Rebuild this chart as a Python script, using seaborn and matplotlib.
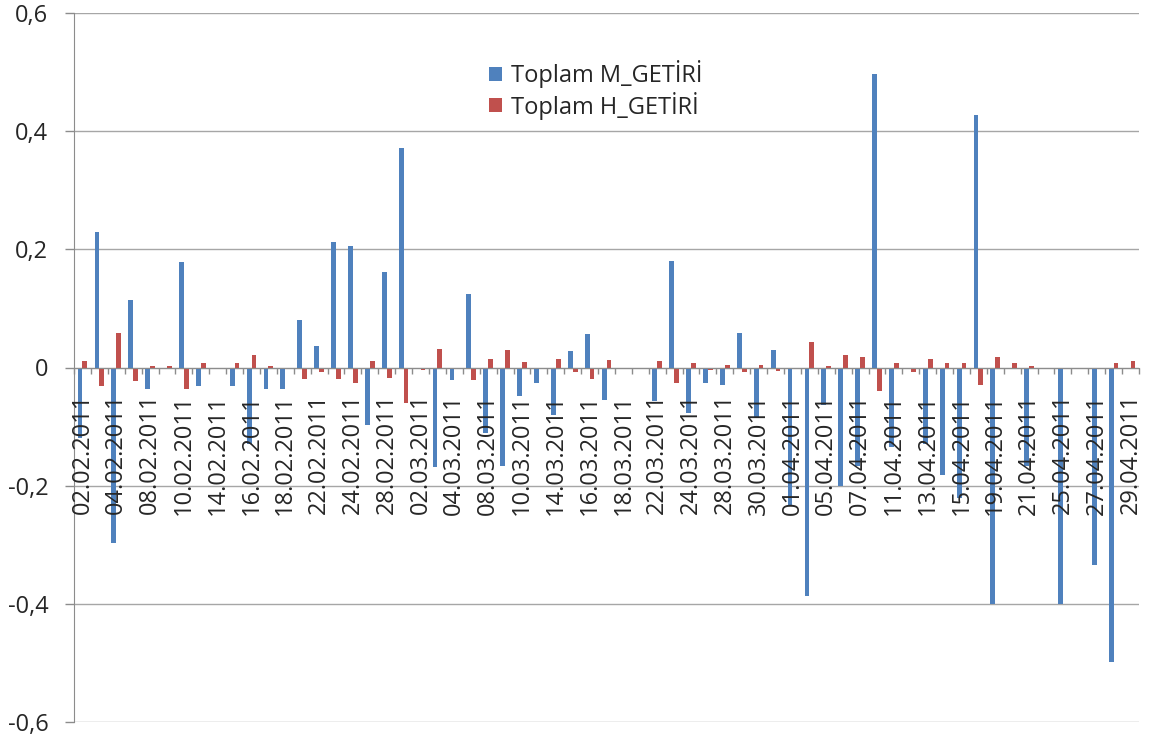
import numpy as np
import pandas as pd
import matplotlib
matplotlib.use("Agg")
import matplotlib.pyplot as plt
import seaborn as sns
from matplotlib.patches import Patch
from matplotlib.ticker import FuncFormatter, FixedLocator, FixedFormatter

# Trading days, Feb-Apr 2011
dates = [
    "02.02.2011", "03.02.2011", "04.02.2011", "07.02.2011", "08.02.2011", "09.02.2011",
    "10.02.2011", "11.02.2011", "14.02.2011", "15.02.2011", "16.02.2011", "17.02.2011",
    "18.02.2011", "21.02.2011", "22.02.2011", "23.02.2011", "24.02.2011", "25.02.2011",
    "28.02.2011",
    "01.03.2011", "02.03.2011", "03.03.2011", "04.03.2011", "07.03.2011", "08.03.2011",
    "09.03.2011", "10.03.2011", "11.03.2011", "14.03.2011", "15.03.2011", "16.03.2011",
    "17.03.2011", "18.03.2011", "21.03.2011", "22.03.2011", "23.03.2011", "24.03.2011",
    "25.03.2011", "28.03.2011", "29.03.2011", "30.03.2011", "31.03.2011",
    "01.04.2011", "04.04.2011", "05.04.2011", "06.04.2011", "07.04.2011", "08.04.2011",
    "11.04.2011", "12.04.2011", "13.04.2011", "14.04.2011", "15.04.2011", "18.04.2011",
    "19.04.2011", "20.04.2011", "21.04.2011", "22.04.2011", "25.04.2011", "26.04.2011",
    "27.04.2011", "28.04.2011", "29.04.2011",
]

m_getiri = [
    -0.120, 0.230, -0.297, 0.114, -0.036, 0.000, 0.178, -0.032, 0.000, -0.032,
    -0.130, -0.037, -0.037, 0.080, 0.037, 0.213, 0.205, -0.098, 0.161,
    0.371, 0.000, -0.169, -0.022, 0.125, -0.111, -0.166, -0.049, -0.027, -0.081,
    0.028, 0.056, -0.055, 0.000, 0.000, -0.057, 0.180, -0.077, -0.027, -0.030,
    0.058, -0.084, 0.030,
    -0.235, -0.386, -0.063, -0.200, -0.167, 0.497, -0.134, 0.000, -0.130, -0.182,
    -0.221, 0.428, -0.400, 0.000, -0.166, 0.000, -0.400, 0.000, -0.334, -0.499, 0.000,
]

h_getiri = [
    0.011, -0.032, 0.058, -0.023, 0.002, 0.002, -0.037, 0.007, -0.003, 0.007,
    0.022, 0.002, 0.000, -0.019, -0.008, -0.019, -0.027, 0.011, -0.017,
    -0.060, -0.004, 0.032, 0.000, -0.022, 0.015, 0.030, 0.009, -0.003, 0.015,
    -0.008, -0.020, 0.013, 0.000, -0.003, 0.011, -0.027, 0.007, -0.004, 0.004,
    -0.008, 0.004, -0.006,
    0.000, 0.043, 0.003, 0.022, 0.017, -0.040, 0.007, -0.008, 0.015, 0.007,
    0.007, -0.029, 0.017, 0.007, 0.002, 0.000, -0.003, -0.003, -0.003, 0.007, 0.011,
]

series = ["Toplam M_GETİRİ", "Toplam H_GETİRİ"]
colors = {"Toplam M_GETİRİ": "#4F81BD", "Toplam H_GETİRİ": "#C0504D"}
y_ticks = [-0.6, -0.4, -0.2, 0.0, 0.2, 0.4, 0.6]

df = pd.DataFrame({"Tarih": dates, series[0]: m_getiri, series[1]: h_getiri})
long_df = df.melt(id_vars="Tarih", var_name="Seri", value_name="Getiri")

sns.set_style("white")
plt.rcParams["font.family"] = ["Open Sans", "DejaVu Sans"]
plt.rcParams["axes.unicode_minus"] = False

W, H = 1149, 742
fig = plt.figure(figsize=(W / 100, H / 100), dpi=100)
ax = fig.add_axes([74 / W, 1 - 722 / H, (1139 - 74) / W, (722 - 13) / H])

sns.barplot(
    data=long_df, x="Tarih", y="Getiri", hue="Seri",
    order=dates, hue_order=series, palette=colors,
    width=0.57, saturation=1, errorbar=None, linewidth=0,
    legend=False, ax=ax,
)
for bar in ax.patches:
    bar.set_zorder(1)

axis_gray = "#8c8c8c"
ax.set_xlim(-0.5, len(dates) - 0.5)
ax.set_ylim(-0.6, 0.6)
ax.set_yticks(y_ticks)
ax.yaxis.set_major_formatter(
    FuncFormatter(lambda v, _: "0" if abs(v) < 1e-9 else f"{v:.1f}".replace(".", ","))
)

# Horizontal gridlines behind the bars; date labels are drawn over the bars
ax.grid(False)
for yv in y_ticks:
    ax.axhline(yv, color="#a6a6a6", linewidth=1, zorder=0.5)
ax.xaxis.set_zorder(3)
ax.yaxis.set_zorder(3)

# Labels every second day; tick marks on every category boundary
ax.xaxis.set_major_locator(FixedLocator(list(range(0, len(dates), 2))))
ax.xaxis.set_major_formatter(FixedFormatter(dates[::2]))
ax.xaxis.set_minor_locator(FixedLocator(list(np.arange(-0.5, len(dates), 1))))
ax.tick_params(axis="x", which="major", length=0, pad=19, labelsize=17,
               labelrotation=90, bottom=True)
ax.tick_params(axis="x", which="minor", length=4, width=1, color=axis_gray,
               direction="out", bottom=True)
ax.tick_params(axis="y", length=6.5, width=1, color=axis_gray, pad=12,
               labelsize=17, left=True)
ax.set_xlabel("")
ax.set_ylabel("")

for side in ("top", "right"):
    ax.spines[side].set_visible(False)
ax.spines["bottom"].set_position(("data", 0))
ax.spines["bottom"].set_color(axis_gray)
ax.spines["left"].set_color(axis_gray)

handles = [Patch(facecolor=colors[s], edgecolor="none", label=s) for s in series]
ax.legend(
    handles=handles, loc="upper left", bbox_to_anchor=(489 / W, 1 - 60 / H),
    bbox_transform=fig.transFigure, frameon=False, fontsize=17,
    handlelength=0.55, handleheight=0.55, handletextpad=0.37,
    labelspacing=0.15, borderpad=0, borderaxespad=0,
)

fig.savefig("out.png", dpi=100)
